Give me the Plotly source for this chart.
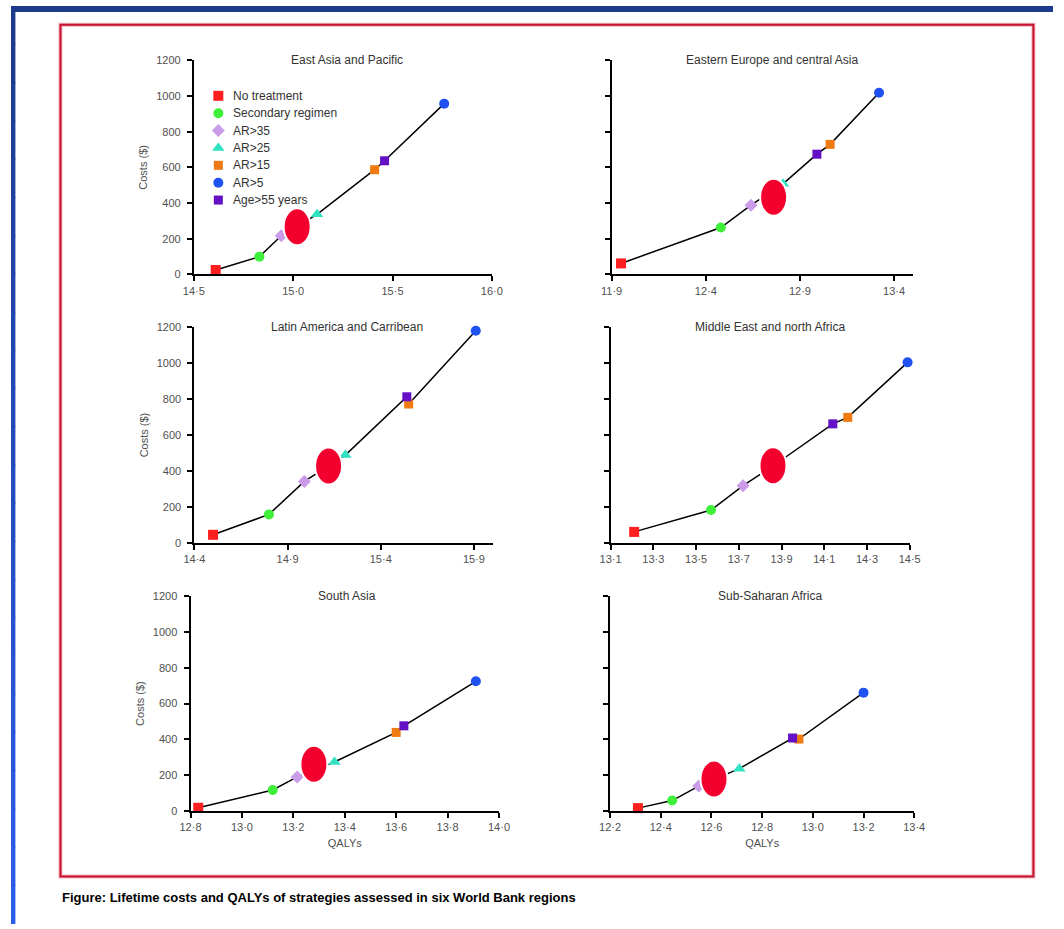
import plotly.graph_objects as go

# ---------------------------------------------------------------- data
strategies = ["No treatment", "Secondary regimen", "AR>35", "AR>25",
              "AR>15", "AR>5", "Age>55 years"]
colors = ["#ff1f1f", "#3ef03a", "#c99be8", "#30e2c2",
          "#f07a12", "#1f52f0", "#6410c4"]
symbols = ["square", "circle", "diamond", "triangle-up",
           "square", "circle", "square"]
marker_sizes = [10, 10, 10, 11, 9, 10, 9]

regions = ["East Asia and Pacific", "Eastern Europe and central Asia",
           "Latin America and Carribean", "Middle East and north Africa",
           "South Asia", "Sub-Saharan Africa"]

# QALYs and lifetime costs ($) per strategy, in the order of `strategies`
qaly_eap = [14.61, 14.83, 14.94, 15.12, 15.41, 15.76, 15.46]
cost_eap = [25, 100, 217, 337, 587, 957, 637]
qaly_eca = [11.95, 12.48, 12.64, 12.81, 13.06, 13.32, 12.99]
cost_eca = [62, 263, 388, 508, 729, 1018, 674]
qaly_lac = [14.50, 14.80, 14.99, 15.21, 15.55, 15.91, 15.54]
cost_lac = [47, 160, 343, 489, 772, 1178, 812]
qaly_mena = [13.21, 13.57, 13.72, 13.88, 14.21, 14.49, 14.14]
cost_mena = [63, 184, 319, 445, 698, 1003, 662]
qaly_sa = [12.83, 13.12, 13.215, 13.36, 13.60, 13.91, 13.63]
cost_sa = [19, 118, 191, 274, 439, 724, 476]
qaly_ssa = [12.31, 12.445, 12.55, 12.71, 12.945, 13.20, 12.92]
cost_ssa = [17, 59, 140, 237, 402, 661, 408]

# highlighted point on each frontier (QALYs, $)
highlight_qaly = [15.02, 12.76, 15.12, 13.86, 13.28, 12.61]
highlight_cost = [267, 433, 428, 430, 261, 179]

# x-axis ticks and ranges
xticks_eap = [14.5, 15.0, 15.5, 16.0]
xticks_eca = [11.9, 12.4, 12.9, 13.4]
xticks_lac = [14.4, 14.9, 15.4, 15.9]
xticks_mena = [13.1, 13.3, 13.5, 13.7, 13.9, 14.1, 14.3, 14.5]
xticks_sa = [12.8, 13.0, 13.2, 13.4, 13.6, 13.8, 14.0]
xticks_ssa = [12.2, 12.4, 12.6, 12.8, 13.0, 13.2, 13.4]
xranges = [[14.5, 16.0], [11.9, 13.5], [14.4, 16.0],
           [13.1, 14.5], [12.8, 14.0], [12.2, 13.4]]
yticks = [0, 200, 400, 600, 800, 1000, 1200]

qalys = [qaly_eap, qaly_eca, qaly_lac, qaly_mena, qaly_sa, qaly_ssa]
costs = [cost_eap, cost_eca, cost_lac, cost_mena, cost_sa, cost_ssa]
xticks = [xticks_eap, xticks_eca, xticks_lac, xticks_mena, xticks_sa, xticks_ssa]

# ---------------------------------------------------------------- layout
W, H = 1064, 929
# plot-area boxes in pixels: left, right, top, bottom
boxes = [(186.7, 491.0, 55, 272), (613.3, 921.0, 55, 272),
         (187.3, 491.7, 325, 544.3), (612.3, 917.7, 325, 544.3),
         (183.3, 498.3, 597.7, 815.7), (611.7, 922.3, 597.7, 815.7)]
title_x = [343, 777, 343, 775, 343, 775]

FONT = "Liberation Sans, Arial, sans-serif"
TICK_GREY = "#505050"


def px(x):
    return x / W


def py(y):
    return 1 - y / H


def dot(v):
    return f"{v:.1f}".replace(".", "·")


fig = go.Figure()
annotations = []
shapes = []

for i in range(6):
    n = i + 1
    xa = "x" if n == 1 else f"x{n}"
    ya = "y" if n == 1 else f"y{n}"
    q, c = qalys[i], costs[i]

    # frontier line through the strategies, ordered by QALYs
    order = sorted(range(len(q)), key=lambda k: q[k])
    fig.add_trace(go.Scatter(
        x=[q[k] for k in order], y=[c[k] for k in order],
        mode="lines", line=dict(color="black", width=1.5),
        showlegend=False, hoverinfo="skip", xaxis=xa, yaxis=ya))

    for k, name in enumerate(strategies):
        fig.add_trace(go.Scatter(
            x=[q[k]], y=[c[k]], mode="markers", name=name,
            showlegend=False,
            marker=dict(color=colors[k], symbol=symbols[k], opacity=1,
                        size=marker_sizes[k], line=dict(width=0)),
            cliponaxis=False, xaxis=xa, yaxis=ya))

    left, right, top, bottom = boxes[i]
    axis_x = dict(
        domain=[px(left), px(right)], range=xranges[i],
        tickvals=xticks[i], ticktext=[dot(v) for v in xticks[i]],
        showline=True, linecolor="black", linewidth=2,
        ticks="outside", ticklen=5, tickwidth=1.5, tickcolor="black",
        showgrid=False, zeroline=False, anchor=ya,
        tickfont=dict(family=FONT, size=11, color=TICK_GREY))
    if i >= 4:
        axis_x["title"] = dict(text="QALYs", standoff=7,
                               font=dict(family=FONT, size=11, color=TICK_GREY))
    axis_y = dict(
        domain=[py(bottom), py(top)], range=[0, 1200], tickvals=yticks,
        showticklabels=(i % 2 == 0), ticklabelstandoff=4,
        showline=True, linecolor="black", linewidth=2,
        ticks="outside", ticklen=5, tickwidth=1.5, tickcolor="black",
        showgrid=False, zeroline=False, anchor=xa,
        tickfont=dict(family=FONT, size=11, color=TICK_GREY))
    if i % 2 == 0:
        axis_y["title"] = dict(text="Costs ($)", standoff=6,
                               font=dict(family=FONT, size=11, color=TICK_GREY))
    fig.update_layout({("xaxis" if n == 1 else f"xaxis{n}"): axis_x,
                       ("yaxis" if n == 1 else f"yaxis{n}"): axis_y})

    annotations.append(dict(
        text=regions[i], x=px(title_x[i]), y=py(top), xref="paper", yref="paper",
        xanchor="center", yanchor="middle", showarrow=False,
        font=dict(family=FONT, size=12, color="#333333")))

    # red oval over the highlighted point
    shapes.append(dict(
        type="circle", xref=xa, yref=ya, xsizemode="pixel", ysizemode="pixel",
        xanchor=highlight_qaly[i], yanchor=highlight_cost[i],
        x0=-13.5, x1=13.5, y0=-18.5, y1=18.5,
        fillcolor="#f4002f", line=dict(color="white", width=2), layer="above"))

# key of strategies, drawn on its own overlay axis (one row per strategy,
# one axis unit per pixel horizontally)
KEY_LEFT, KEY_TOP, KEY_ROW = 200, 91, 17.6
KEY_MARK_X, KEY_TEXT_X = 11.7, 25
n_rows = len(strategies)
fig.add_trace(go.Scatter(
    x=[KEY_MARK_X] * n_rows, y=list(range(n_rows)), mode="markers",
    marker=dict(color=colors, symbol=symbols, size=marker_sizes, opacity=1,
                line=dict(width=0)),
    showlegend=False, hoverinfo="skip", cliponaxis=False,
    xaxis="x7", yaxis="y7"))
for k, name in enumerate(strategies):
    annotations.append(dict(
        text=name, x=KEY_TEXT_X, y=k, xref="x7", yref="y7",
        xanchor="left", yanchor="middle", showarrow=False,
        font=dict(family=FONT, size=12, color="#333333")))
fig.update_layout(
    xaxis7=dict(domain=[px(KEY_LEFT), px(KEY_LEFT + 140)], range=[0, 140],
                visible=False, anchor="y7", fixedrange=True),
    yaxis7=dict(domain=[py(KEY_TOP + (n_rows - 0.5) * KEY_ROW),
                        py(KEY_TOP - 0.5 * KEY_ROW)],
                range=[n_rows - 0.5, -0.5], visible=False, anchor="x7",
                fixedrange=True))

# page decoration: navy band on top, blue strip on the left
shapes.append(dict(type="rect", xref="paper", yref="paper",
                   x0=0, x1=1, y0=py(6), y1=1, fillcolor="#1d3a8c",
                   line=dict(width=0), layer="below"))
steps = 24
c0, c1 = (0x1d, 0x3a, 0x8c), (0x2c, 0x5c, 0xec)
for s in range(steps):
    t = s / (steps - 1)
    col = "rgb({},{},{})".format(*[round(a + (b - a) * t) for a, b in zip(c0, c1)])
    shapes.append(dict(type="rect", xref="paper", yref="paper",
                       x0=0, x1=px(4.5),
                       y0=py((s + 1) * H / steps + 1), y1=py(s * H / steps),
                       fillcolor=col, line=dict(width=0), layer="below"))

# red frame around the panels (soft halo + core line)
for wdt, col in [(4, "rgba(214,40,70,0.35)"), (2, "#c4122f")]:
    shapes.append(dict(type="rect", xref="paper", yref="paper",
                       x0=px(50.5), x1=px(1044), y0=py(882), y1=py(19),
                       line=dict(color=col, width=wdt), fillcolor="rgba(0,0,0,0)",
                       layer="below"))

annotations.append(dict(
    text="<b>Figure: Lifetime costs and QALYs of strategies assessed in six World Bank regions</b>",
    x=px(50), y=py(903), xref="paper", yref="paper", xanchor="left",
    yanchor="middle", showarrow=False,
    font=dict(family=FONT, size=13, color="black")))

fig.update_layout(
    width=W, height=H, margin=dict(l=0, r=0, t=0, b=0),
    paper_bgcolor="white", plot_bgcolor="rgba(0,0,0,0)",
    annotations=annotations, shapes=shapes, showlegend=False,
)

fig.write_html("out.html")
